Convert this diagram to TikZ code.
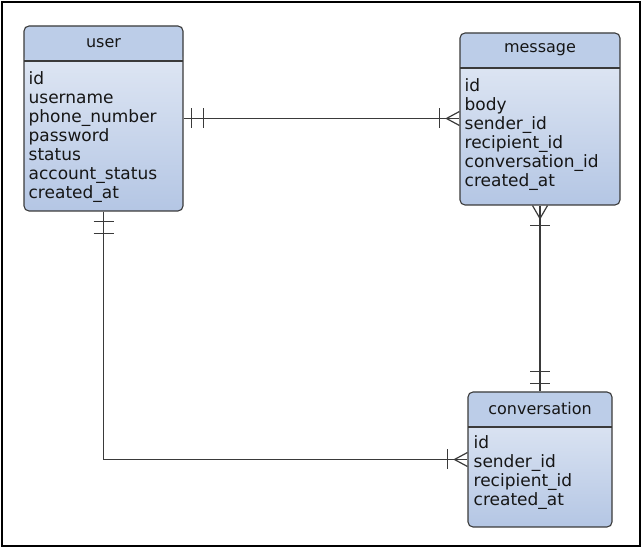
\documentclass[tikz,border=0pt]{standalone}
\usepackage{fontspec}
\setmainfont{DejaVu Sans}
\usetikzlibrary{positioning,calc}
\definecolor{erHead}{HTML}{BCCDE8}
\definecolor{erBodyTop}{HTML}{E6ECF6}
\definecolor{erBodyBot}{HTML}{B4C6E4}
\definecolor{erLine}{HTML}{3A3A3A}
\definecolor{erText}{HTML}{161616}

\begin{document}
\begin{tikzpicture}[x=1pt, y=-1pt,
    entity/.style={draw=erLine, line width=1.1pt, rounded corners=5pt, top color=erBodyTop, bottom color=erBodyBot,
        path picture={\fill[erHead] (path picture bounding box.north west) rectangle ([yshift=-35pt]path picture bounding box.north east);
                      \draw[erLine, line width=1.1pt] ([yshift=-35pt]path picture bounding box.north west) -- ([yshift=-35pt]path picture bounding box.north east);}},
    etitle/.style={text=erText, font=\fontsize{16}{19}\selectfont, inner sep=0pt},
    eattr/.style={text=erText, font=\fontsize{17}{19}\selectfont, align=left, inner sep=0pt, anchor=north west},
    conn/.style={draw=erLine, line width=1.2pt}
]
    \useasboundingbox (0,0) rectangle (641,548);
    \draw[line width=2pt] (1.5,1.8) rectangle (639.5,546.2);

    % Entities
    \node[entity, minimum width=159pt, minimum height=185pt] (user) at (103.5,118.5) {};
    \node[entity, minimum width=160pt, minimum height=172pt] (message) at (540,119) {};
    \node[entity, minimum width=144pt, minimum height=135pt] (conversation) at (540,459.5) {};

    \node[etitle] (userTitle) at ($(user.north)+(0,17.5)$) {user};
    \node[etitle] (messageTitle) at ($(message.north)+(0,17.5)$) {message};
    \node[etitle] (conversationTitle) at ($(conversation.north)+(0,17.5)$) {conversation};

    \node[eattr] (userAttr) at ($(user.north west)+(5,46)$) {id\\username\\phone\_number\\password\\status\\account\_status\\created\_at};
    \node[eattr] (messageAttr) at ($(message.north west)+(5,46)$) {id\\body\\sender\_id\\recipient\_id\\conversation\_id\\created\_at};
    \node[eattr] (conversationAttr) at ($(conversation.north west)+(6,44)$) {id\\sender\_id\\recipient\_id\\created\_at};

    % Relations
    \coordinate (msgIn) at (user.east -| message.west);
    \draw[conn] (user.east) -- (msgIn);
    \draw[conn] (user.south) |- (conversation.west);
    \draw[conn] (message.south) -- (conversation.north);

    % user: exactly one (to message)
    \draw[conn] ($(user.east)+(8,-10)$) -- ++(0,20);
    \draw[conn] ($(user.east)+(20,-10)$) -- ++(0,20);
    % message: one or many (from user)
    \draw[conn] ($(msgIn)+(-20,-10)$) -- ++(0,20);
    \draw[conn] ($(msgIn)+(0,-7)$) -- ($(msgIn)+(-13,0)$) -- ($(msgIn)+(0,7)$);

    % user: exactly one (to conversation)
    \draw[conn] ($(user.south)+(-10,10)$) -- ++(20,0);
    \draw[conn] ($(user.south)+(-10,22)$) -- ++(20,0);
    % conversation: one or many (from user)
    \draw[conn] ($(conversation.west)+(-20,-10)$) -- ++(0,20);
    \draw[conn] ($(conversation.west)+(0,-7)$) -- ($(conversation.west)+(-13,0)$) -- ($(conversation.west)+(0,7)$);

    % message: one or many (to conversation)
    \draw[conn] ($(message.south)+(-7.5,0)$) -- ($(message.south)+(0,13)$) -- ($(message.south)+(7.5,0)$);
    \draw[conn] ($(message.south)+(-10,20)$) -- ++(20,0);
    % conversation: exactly one
    \draw[conn] ($(conversation.north)+(-10,-8)$) -- ++(20,0);
    \draw[conn] ($(conversation.north)+(-10,-20)$) -- ++(20,0);
\end{tikzpicture}
\end{document}
